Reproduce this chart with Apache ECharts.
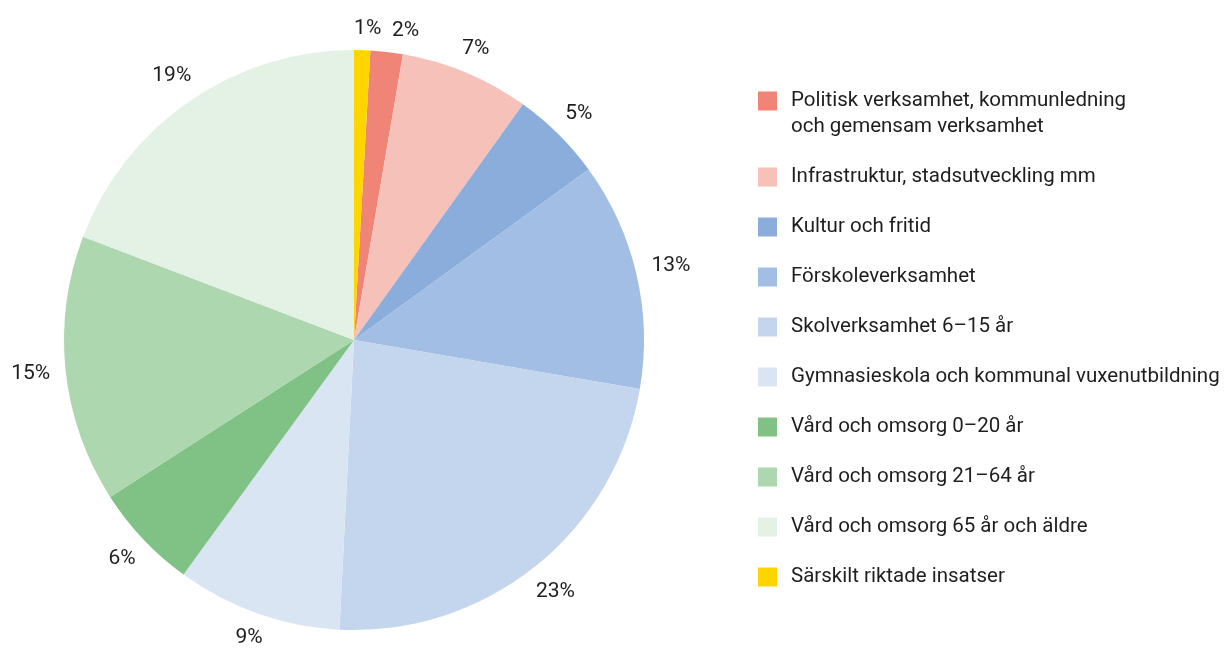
<!DOCTYPE html>
<html>
<head>
<meta charset="utf-8">
<script src="https://cdn.jsdelivr.net/npm/echarts@6/dist/echarts.min.js"></script>
<style>
  html, body { margin: 0; padding: 0; background: #fff; }
  #chart { width: 1224px; height: 650px; }
</style>
</head>
<body>
<div id="chart"></div>
<script>
// legend order
const categories = [
  "Politisk verksamhet, kommunledning\noch gemensam verksamhet",
  "Infrastruktur, stadsutveckling mm",
  "Kultur och fritid",
  "Förskoleverksamhet",
  "Skolverksamhet 6–15 år",
  "Gymnasieskola och kommunal vuxenutbildning",
  "Vård och omsorg 0–20 år",
  "Vård och omsorg 21–64 år",
  "Vård och omsorg 65 år och äldre",
  "Särskilt riktade insatser"
];
// shares in percent, read from the slice edges (labels show them rounded)
const values = [1.8, 7.2, 5.1, 12.7, 23.1, 9.2, 5.9, 14.9, 19.2, 0.9];
const colors = [
  "#F08577", "#F6C1B9", "#8AADDB", "#A2BEE4", "#C4D5EE",
  "#DAE5F4", "#80C285", "#ADD7AF", "#E3F2E5", "#FFD500"
];

const fontFamily = "Roboto, sans-serif";
const textColor = "#1e1e1e";

const center = [354, 340];
const radius = 290;
const labelGap = 15;
// the two thin slices at the top get their labels spread apart a bit (degrees)
const labelSpread = { 0: 3, 9: 0.9 };

const total = values.reduce((a, b) => a + b, 0);
const lastShare = values[values.length - 1];
// last slice (Särskilt) sits just right of 12 o'clock
const startAngle = 90 - 360 * lastShare / total;

// mid angle of every slice, clockwise from 12 o'clock
const midAngles = [];
let acc = lastShare;
values.forEach((v, i) => {
  if (i === values.length - 1) {
    midAngles.push(360 * (v / 2) / total);
  } else {
    midAngles.push(360 * (acc + v / 2) / total);
    acc += v;
  }
});

const pieData = categories.map((name, i) => ({
  name: name,
  value: values[i],
  itemStyle: { color: colors[i] }
}));

const lineH = 26;

const chart = echarts.init(document.getElementById("chart"));
chart.setOption({
  animation: false,
  legend: {
    orient: "vertical",
    left: 758,
    top: 62,
    padding: 0,
    itemWidth: 19,
    itemHeight: 19,
    itemGap: 24,
    icon: "rect",
    selectedMode: false,
    // two-line names: pad with an empty line on top so the marker sits at the first line
    formatter: function (name) {
      return name.indexOf("\n") >= 0 ? "\u00a0\n" + name : name;
    },
    textStyle: {
      fontFamily: fontFamily,
      fontSize: 20.5,
      color: textColor,
      lineHeight: lineH,
      padding: [0, 0, 0, 9]
    },
    data: categories
  },
  series: [
    {
      type: "pie",
      center: center,
      radius: [0, radius],
      startAngle: startAngle,
      clockwise: true,
      avoidLabelOverlap: false,
      itemStyle: { borderWidth: 0 },
      emphasis: { disabled: true },
      label: {
        show: true,
        position: "outside",
        formatter: function (p) {
          return Math.round(p.value) + "%";
        },
        fontFamily: fontFamily,
        fontSize: 21,
        color: textColor
      },
      labelLine: { show: false },
      // place each label just outside the rim, its nearest glyph edge a fixed gap away
      labelLayout: function (params) {
        const i = params.dataIndex;
        const a = (midAngles[i] + (labelSpread[i] || 0)) * Math.PI / 180;
        const sx = Math.sin(a);
        const cy = Math.cos(a);
        const hw = params.labelRect.width / 2;
        const hh = params.labelRect.height * 0.3;
        const r = radius + labelGap + hw * Math.abs(sx) + hh * Math.abs(cy);
        return {
          x: center[0] + sx * r,
          y: center[1] - cy * r,
          align: "center",
          verticalAlign: "middle",
          hideOverlap: false
        };
      },
      data: pieData
    }
  ]
});
</script>
</body>
</html>
